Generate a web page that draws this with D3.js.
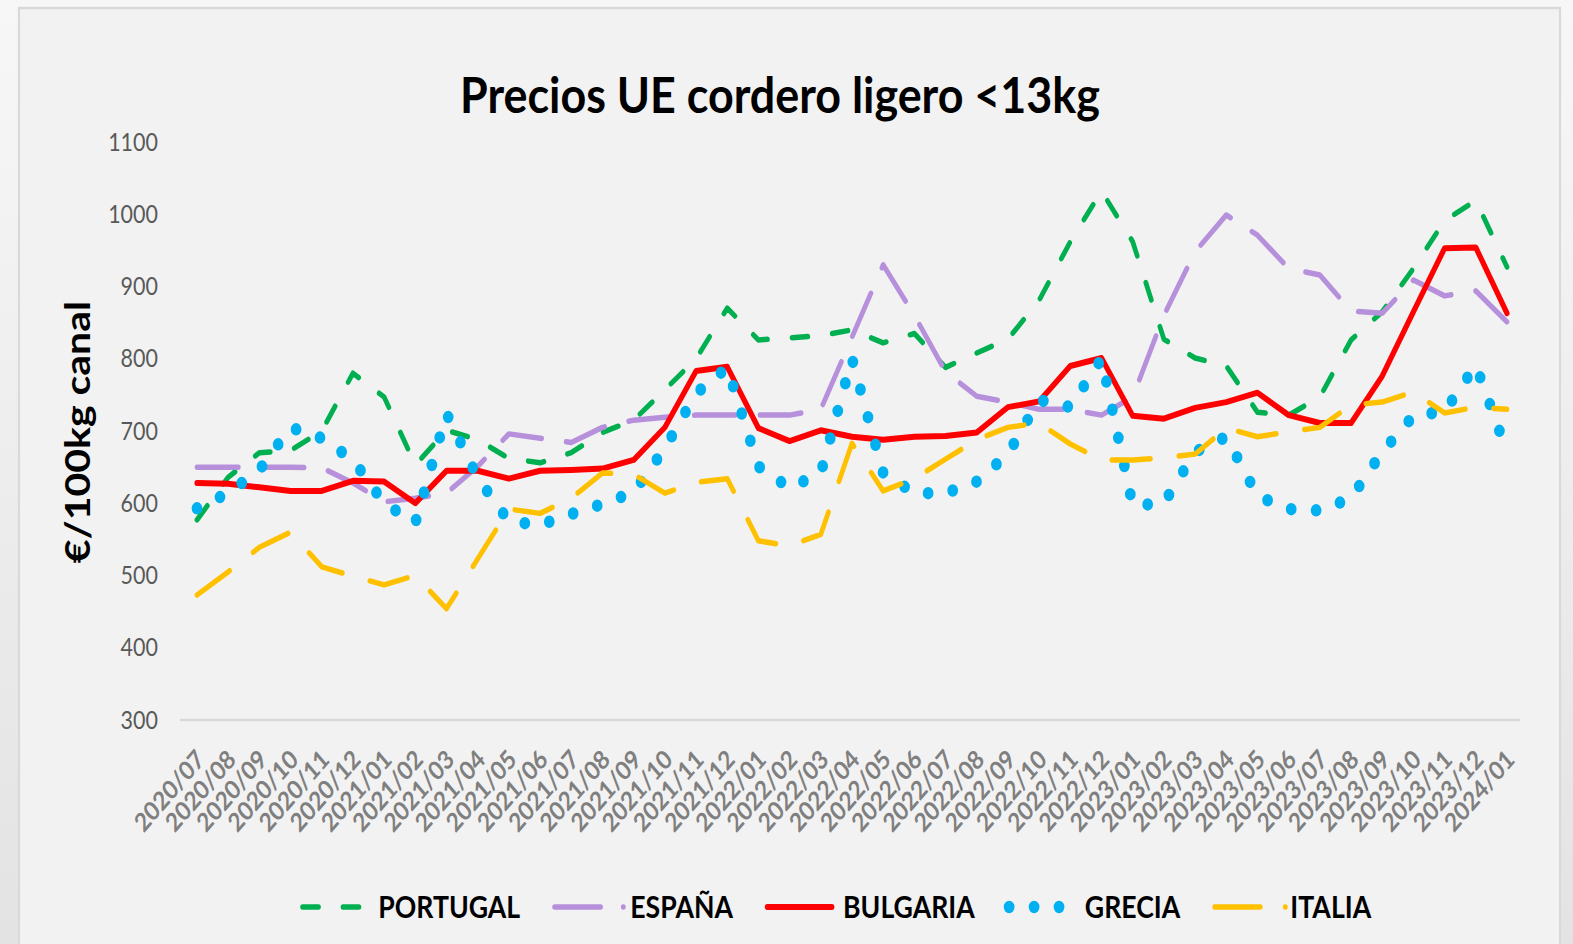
<!DOCTYPE html>
<meta charset="utf-8">
<head>
<style>
  body { margin: 0; background: #f5f5f5; overflow: hidden; }
  text { font-family: Lato, "Open Sans", sans-serif; }
</style>
</head>
<body>

<div id="chart"></div>

<script src="https://d3js.org/d3.v7.min.js"></script>
<script>

// months on the x axis
var months = ["2020/07","2020/08","2020/09","2020/10","2020/11","2020/12",
  "2021/01","2021/02","2021/03","2021/04","2021/05","2021/06","2021/07","2021/08","2021/09","2021/10","2021/11","2021/12",
  "2022/01","2022/02","2022/03","2022/04","2022/05","2022/06","2022/07","2022/08","2022/09","2022/10","2022/11","2022/12",
  "2023/01","2023/02","2023/03","2023/04","2023/05","2023/06","2023/07","2023/08","2023/09","2023/10","2023/11","2023/12",
  "2024/01"];

// €/100kg canal
var portugal = [577,636,670,673,700,780,747,653,701,688,662,656,670,698,715,757,800,870,
  826,829,832,840,822,835,788,808,827,881,962,1032,962,827,801,790,726,722,747,826,865,925,991,1019,927];
var espana = [650,650,650,650,649,628,602,607,614,651,696,690,684,705,715,719,722,722,
  722,722,730,830,930,860,782,748,740,730,730,722,747,860,948,999,971,925,916,866,863,909,887,894,851];
var bulgaria = [628,627,622,617,617,631,630,600,645,645,634,645,646,648,660,705,783,789,
  704,686,701,692,688,692,693,698,733,741,790,801,721,717,732,740,753,722,711,711,776,865,953,954,863];
var grecia = [593,614,646,705,690,660,600,573,724,635,575,570,585,599,615,676,752,788,
  651,621,642,800,642,614,614,630,668,743,733,800,597,600,671,692,610,592,590,607,671,721,727,791,671];
var italia = [473,505,539,560,512,499,487,500,454,523,592,586,607,642,640,614,629,634,
  548,541,557,683,617,634,661,688,705,711,682,660,660,663,668,704,692,699,705,736,740,754,725,733,730];

var yTicks = [300,400,500,600,700,800,900,1000,1100];

var series = [
  {name: "PORTUGAL", values: portugal, color: "#00b050", width: 5.5, dash: "18.5,28.5", legendDash: "18.5,28.5", legendLen: 66},
  {name: "ESPAÑA",   values: espana,   color: "#b790dc", width: 5.5, dash: "48,28.5",   legendDash: "53.5,26.3,0.1,100", legendLen: 80.2},
  {name: "BULGARIA", values: bulgaria, color: "#ff0000", width: 6,   dash: null,        legendDash: null, legendLen: 75},
  {name: "GRECIA",   values: grecia,   color: "#00b0f0", width: 12.5, dash: "0,29",     legendDash: "0,29", legendLen: 58.1},
  {name: "ITALIA",   values: italia,   color: "#ffc000", width: 5.5, dash: "45,33",     legendDash: "53,29,0.1,100", legendLen: 82.3}
];

// the reference picture is squeezed sideways, so draw wide and let the viewBox squeeze it
var C = 0.86;
function px(v) { return v / C; }
var W = 1573, H = 944;

var svg = d3.select("#chart").append("svg")
    .attr("width", W)
    .attr("height", H)
    .attr("viewBox", "0 0 " + px(W) + " " + H)
    .attr("preserveAspectRatio", "none");

var grad = svg.append("defs").append("linearGradient")
    .attr("id", "bg").attr("x1", 0).attr("y1", 0).attr("x2", 0).attr("y2", 1);
grad.append("stop").attr("offset", "0%").attr("stop-color", "#f7f7f7");
grad.append("stop").attr("offset", "100%").attr("stop-color", "#e3e3e3");

svg.append("rect").attr("width", px(W)).attr("height", H).attr("fill", "url(#bg)");

// chart area
svg.append("rect")
    .attr("x", px(19)).attr("y", 8)
    .attr("width", px(1560 - 19)).attr("height", H + 20)
    .attr("fill", "#f2f2f2")
    .attr("stroke", "#d9d9d9")
    .attr("stroke-width", 2.5);

svg.append("text")
    .attr("x", px(780)).attr("y", 113)
    .attr("text-anchor", "middle")
    .attr("textLength", px(640))
    .attr("lengthAdjust", "spacingAndGlyphs")
    .style("font-size", "50px")
    .style("font-weight", "bold")
    .style("fill", "#000")
    .text("Precios UE cordero ligero <13kg");

var x = d3.scalePoint().domain(months).range([px(197), px(1507)]);
var y = d3.scaleLinear().domain([300, 1100]).range([720, 142]);

// y axis labels
var yAxis = svg.append("g")
    .attr("transform", "translate(" + px(158) + ",0)")
    .call(d3.axisLeft(y).tickValues(yTicks).tickFormat(d3.format("d")).tickSize(0).tickPadding(0));
yAxis.select(".domain").remove();
yAxis.selectAll("text")
    .style("font-size", "25px")
    .style("fill", "#595959")
    .style("font-family", "Lato, sans-serif");

// bottom axis line
svg.append("line")
    .attr("x1", px(180)).attr("x2", px(1520))
    .attr("y1", y(300)).attr("y2", y(300))
    .attr("stroke", "#d9d9d9")
    .attr("stroke-width", 2.5);

// x axis labels
var xAxis = svg.append("g")
    .attr("transform", "translate(0," + y(300) + ")")
    .call(d3.axisBottom(x).tickSize(0));
xAxis.select(".domain").remove();
xAxis.selectAll("text")
    .attr("x", 0).attr("y", 0).attr("dy", 0)
    .attr("transform", "translate(10,41) rotate(-45)")
    .style("text-anchor", "end")
    .style("font-size", "26px")
    .style("font-weight", "bold")
    .style("fill", "#7f7f7f")
    .style("font-family", "Lato, sans-serif");

svg.append("text")
    .attr("transform", "translate(" + px(90) + ",432) rotate(-90)")
    .attr("text-anchor", "middle")
    .style("font-size", "41px")
    .style("font-weight", "bold")
    .style("fill", "#000")
    .text("€/100kg canal");

var line = d3.line()
    .x(function(d, i) { return x(months[i]); })
    .y(function(d) { return y(d); });

series.forEach(function(s) {
  svg.append("path")
      .datum(s.values)
      .attr("d", line)
      .attr("fill", "none")
      .attr("stroke", s.color)
      .attr("stroke-width", s.width)
      .attr("stroke-linecap", "round")
      .attr("stroke-linejoin", "round")
      .attr("stroke-dasharray", s.dash);
});

// legend
var lx = px(300) + 3;
var legend = svg.append("g").attr("transform", "translate(0,907)");
series.forEach(function(s) {
  legend.append("line")
      .attr("x1", lx).attr("x2", lx + s.legendLen)
      .attr("y1", 0).attr("y2", 0)
      .attr("stroke", s.color)
      .attr("stroke-width", s.width)
      .attr("stroke-linecap", "round")
      .attr("stroke-dasharray", s.legendDash);
  var t = legend.append("text")
      .attr("x", lx + 88).attr("y", 11)
      .style("font-size", "31px")
      .style("font-weight", "bold")
      .style("fill", "#000")
      .text(s.name);
  lx = lx + 88 + t.node().getComputedTextLength() + 40;
});

</script>
</body>
